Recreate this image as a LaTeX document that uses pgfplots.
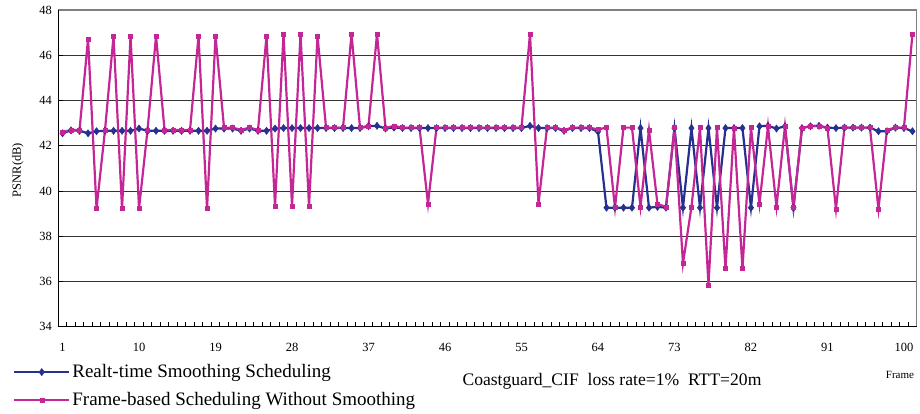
\documentclass[border=0pt]{standalone}
\usepackage{pgfplots}
\pgfplotsset{compat=1.18}
\usepackage{pgfplotstable}
\usepackage{fontspec}
\setmainfont{Liberation Serif}
\definecolor{rtblue}{RGB}{38,48,142}
\definecolor{fbmag}{RGB}{196,38,150}

\pgfplotstableread{
f b m
1 42.55 42.60
2 42.68 42.70
3 42.66 42.70
4 42.55 46.72
5 42.64 39.23
6 42.66 42.70
7 42.66 46.85
8 42.66 39.23
9 42.66 46.85
10 42.76 39.23
11 42.66 42.70
12 42.66 46.85
13 42.66 42.70
14 42.66 42.70
15 42.66 42.70
16 42.66 42.70
17 42.66 46.85
18 42.66 39.23
19 42.76 46.85
20 42.76 42.80
21 42.76 42.80
22 42.66 42.70
23 42.76 42.80
24 42.66 42.70
25 42.66 46.85
26 42.76 39.34
27 42.78 46.94
28 42.78 39.34
29 42.78 46.94
30 42.78 39.34
31 42.78 46.85
32 42.78 42.80
33 42.78 42.80
34 42.78 42.80
35 42.78 46.94
36 42.78 42.80
37 42.86 42.88
38 42.88 46.94
39 42.76 42.78
40 42.80 42.88
41 42.78 42.80
42 42.78 42.80
43 42.78 42.80
44 42.78 39.43
45 42.78 42.80
46 42.78 42.80
47 42.78 42.80
48 42.78 42.80
49 42.78 42.80
50 42.78 42.80
51 42.78 42.80
52 42.78 42.80
53 42.78 42.80
54 42.78 42.80
55 42.78 42.80
56 42.88 46.94
57 42.78 39.43
58 42.78 42.80
59 42.78 42.80
60 42.66 42.70
61 42.78 42.80
62 42.78 42.80
63 42.78 42.80
64 42.62 42.72
65 39.26 42.80
66 39.26 39.26
67 39.26 42.80
68 39.26 42.80
69 42.78 39.30
70 39.26 42.70
71 39.30 39.42
72 39.26 39.30
73 42.78 42.80
74 39.26 36.80
75 42.78 39.30
76 39.26 42.80
77 42.78 35.84
78 39.26 42.80
79 42.78 36.57
80 42.78 42.78
81 42.78 36.57
82 39.26 42.80
83 42.86 39.43
84 42.88 42.86
85 42.76 39.30
86 42.86 42.86
87 39.26 39.26
88 42.78 42.78
89 42.86 42.87
90 42.88 42.87
91 42.80 42.78
92 42.78 39.20
93 42.80 42.80
94 42.80 42.80
95 42.80 42.80
96 42.80 42.80
97 42.64 39.20
98 42.64 42.70
99 42.80 42.80
100 42.78 42.80
101 42.64 46.94
}\data

\begin{document}
\begin{tikzpicture}
\useasboundingbox (-58.3pt,-87.3pt) rectangle (861.7pt,326.7pt);
\begin{axis}[
  width=858.4pt, height=316.7pt, scale only axis,
  clip=false,
  xmin=0.5, xmax=101.5, ymin=34, ymax=48,
  xtick={0.5,1.5,...,101.5}, xticklabels={},
  extra x ticks={1,10,19,28,37,46,55,64,73,82,91,100},
  extra x tick style={major tick length=0pt, grid=none},
  extra x tick labels={1,10,19,28,37,46,55,64,73,82,91,100},
  ytick={34,36,...,48},
  major tick length=5pt,
  tick style={black, line width=0.8pt},
  xtick pos=bottom, ytick pos=left,
  ymajorgrids, major grid style={black!80, line width=0.9pt},
  axis line style={gray, line width=1.5pt},
  /pgf/number format/assume math mode=true,
  ticklabel style={font=\fontsize{12.5}{14}\selectfont},
  xticklabel style={yshift=-13pt},
  yticklabel style={xshift=-3pt},
  ylabel={PSNR(dB)},
  ylabel style={at={(rel axis cs:-0.047,0.495)}, anchor=center, font=\fontsize{12.5}{14}\selectfont},
  xlabel={Frame},
  xlabel style={at={(rel axis cs:0.9805,-0.1525)}, anchor=center, font=\fontsize{11}{13}\selectfont},
  legend style={at={(-0.0563,-0.107)}, anchor=north west, draw=none, fill=none,
    font=\fontsize{19}{21}\selectfont, legend cell align=left, row sep=9pt},
  legend image code/.code={\draw[mark repeat=2, mark phase=2, #1] plot coordinates {(0pt,0pt) (27.5pt,0pt) (55pt,0pt)};},
]
\addplot[color=rtblue, line width=2.2pt, mark=diamond*, mark size=3.6pt, mark options={solid, fill=rtblue, line width=0.5pt}] table[x=f,y=b]{\data};
\addlegendentry{Realt-time Smoothing Scheduling}
\addplot[color=fbmag, line width=2.2pt, mark=square*, mark size=2pt, mark options={solid, fill=fbmag, line width=0.5pt}] table[x=f,y=m]{\data};
\addlegendentry{Frame-based Scheduling Without Smoothing}
\draw[black, line width=1.5pt] (rel axis cs:0,1) -- (rel axis cs:0,0) -- (rel axis cs:1,0);
\node[font=\fontsize{17.6}{20}\selectfont] at (rel axis cs:0.645,-0.1715) {Coastguard\_CIF\ \ loss rate=1\%\ \ RTT=20m};
\end{axis}
\end{tikzpicture}
\end{document}
